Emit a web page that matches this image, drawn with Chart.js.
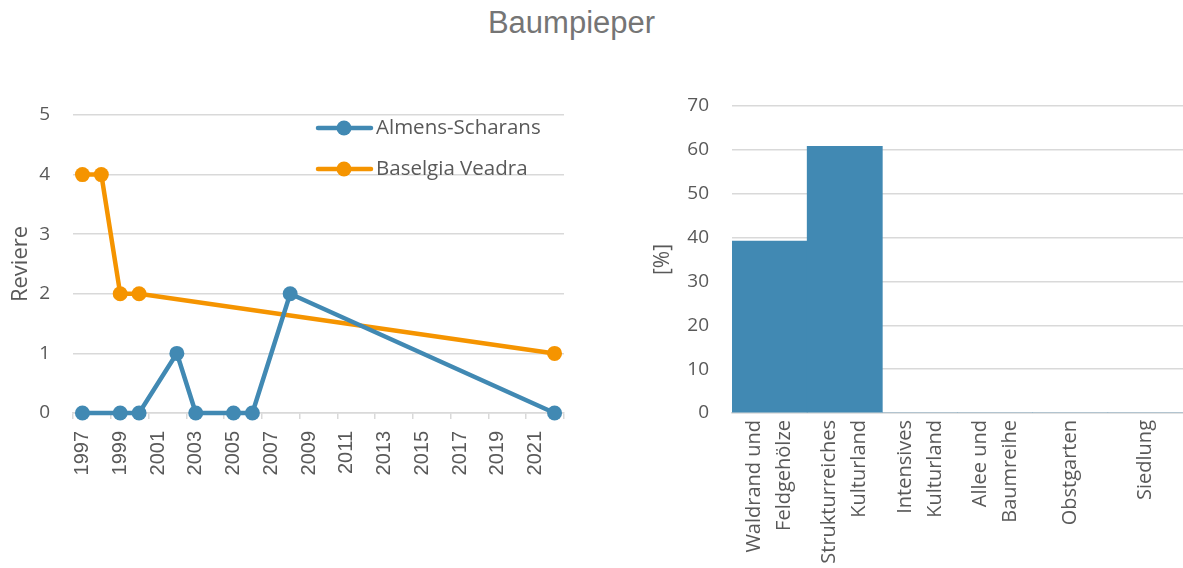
<!DOCTYPE html>
<html>
<head>
<meta charset="utf-8">
<script src="https://cdn.jsdelivr.net/npm/chart.js@4.4.1/dist/chart.umd.min.js"></script>
<style>
  body { margin: 0; background: #fff; width: 1183px; height: 568px; position: relative; overflow: hidden; }
  #title { position: absolute; left: 0; width: 1143px; top: 5px; text-align: center;
           font: 31px "Liberation Sans", Arial, sans-serif; color: #757575; }
  #left { position: absolute; left: 0; top: 0; }
  #right { position: absolute; left: 600px; top: 0; }
</style>
</head>
<body>
<div id="title">Baumpieper</div>
<canvas id="left" width="600" height="568"></canvas>
<canvas id="right" width="583" height="568"></canvas>
<script>
// Line chart data (territories per year)
const almensYears = [1997, 1999, 2000, 2002, 2003, 2005, 2006, 2008, 2022];
const almensValues = [0, 0, 0, 1, 0, 0, 0, 2, 0];
const baselgiaYears = [1997, 1998, 1999, 2000, 2022];
const baselgiaValues = [4, 4, 2, 2, 1];
const yearTicks = [1997, 1999, 2001, 2003, 2005, 2007, 2009, 2011, 2013, 2015, 2017, 2019, 2021];

// Bar chart data (habitat share in %)
const habitatLabels = [
  ["Waldrand und", "Feldgehölze"],
  ["Strukturreiches", "Kulturland"],
  ["Intensives", "Kulturland"],
  ["Allee und", "Baumreihe"],
  ["Obstgarten"],
  ["Siedlung"]
];
const habitatValues = [39.2, 60.8, 0, 0, 0, 0];

const blue = "#4189b3";
const orange = "#f59400";
const textGrey = "#595959";
const gridGrey = "#d9d9d9";

// legend drawn inside the plot area, line + dot like the original
const lineLegend = {
  id: "lineLegend",
  afterDraw(chart) {
    const ctx = chart.ctx;
    ctx.save();
    ctx.font = '20.5px "Open Sans"';
    ctx.textBaseline = "middle";
    chart.data.datasets.forEach((ds, i) => {
      const y = 128 + i * 41;
      ctx.strokeStyle = ds.borderColor;
      ctx.lineWidth = 4.5;
      ctx.lineCap = "round";
      ctx.beginPath();
      ctx.moveTo(318, y);
      ctx.lineTo(371, y);
      ctx.stroke();
      ctx.fillStyle = ds.borderColor;
      ctx.beginPath();
      ctx.arc(344, y, 7.5, 0, Math.PI * 2);
      ctx.fill();
      ctx.fillStyle = textGrey;
      ctx.fillText(ds.label, 376, y);
    });
    ctx.restore();
  }
};

new Chart(document.getElementById("left"), {
  type: "line",
  data: {
    datasets: [
      {
        label: "Almens-Scharans",
        data: almensYears.map((y, i) => ({ x: y, y: almensValues[i] })),
        borderColor: blue,
        backgroundColor: blue,
        borderWidth: 4.5,
        pointRadius: 7.5,
        pointBorderWidth: 0,
        clip: false
      },
      {
        label: "Baselgia Veadra",
        data: baselgiaYears.map((y, i) => ({ x: y, y: baselgiaValues[i] })),
        borderColor: orange,
        backgroundColor: orange,
        borderWidth: 4.5,
        pointRadius: 7.5,
        pointBorderWidth: 0,
        clip: false
      }
    ]
  },
  options: {
    responsive: false,
    animation: false,
    layout: { padding: { top: 115, right: 35, left: 0, bottom: 0 } },
    plugins: { legend: { display: false }, tooltip: { enabled: false } },
    scales: {
      x: {
        type: "linear",
        min: 1996.5,
        max: 2022.5,
        afterBuildTicks(scale) {
          scale.ticks = yearTicks.map(y => ({ value: y - 0.5 })).concat([{ value: 2022.5 }]);
        },
        afterFit(scale) { scale.height = 155; },
        grid: { drawOnChartArea: false, color: gridGrey, lineWidth: 1.5, tickLength: 6 },
        border: { color: gridGrey, width: 1.5 },
        ticks: {
          minRotation: 90,
          maxRotation: 90,
          autoSkip: false,
          padding: 12,
          labelOffset: 9.5,
          color: textGrey,
          font: { family: '"Liberation Sans"', size: 20 },
          callback: v => (yearTicks.includes(v + 0.5) ? String(v + 0.5) : "")
        }
      },
      y: {
        min: 0,
        max: 5,
        afterFit(scale) { scale.width = 73; },
        grid: { color: gridGrey, lineWidth: 1.5, drawTicks: false },
        border: { display: false },
        ticks: { stepSize: 1, padding: 23, color: textGrey, font: { family: '"Open Sans"', size: 19 } },
        title: { display: true, text: "Reviere", color: textGrey, padding: { top: 8 }, font: { family: '"Open Sans"', size: 22 } }
      }
    }
  },
  plugins: [lineLegend]
});

// category labels drawn by hand so two-line labels stay centred on their bar
const catLabels = {
  id: "catLabels",
  afterDraw(chart) {
    const xs = chart.scales.x;
    const ctx = chart.ctx;
    ctx.save();
    ctx.font = '20px "Open Sans"';
    ctx.fillStyle = textGrey;
    ctx.textAlign = "right";
    ctx.textBaseline = "middle";
    habitatLabels.forEach((lines, i) => {
      const x = xs.getPixelForTick(i);
      lines.forEach((line, j) => {
        const dx = (j - (lines.length - 1) / 2) * 30;
        ctx.save();
        ctx.translate(x + dx, xs.top + 7);
        ctx.rotate(-Math.PI / 2);
        ctx.fillText(line, 0, 0);
        ctx.restore();
      });
    });
    ctx.restore();
  }
};

new Chart(document.getElementById("right"), {
  type: "bar",
  data: {
    labels: habitatLabels,
    datasets: [{ data: habitatValues, backgroundColor: blue, barPercentage: 1, categoryPercentage: 1 }]
  },
  options: {
    responsive: false,
    animation: false,
    layout: { padding: { top: 106, right: 0, left: 0, bottom: 0 } },
    plugins: { legend: { display: false }, tooltip: { enabled: false } },
    scales: {
      x: {
        afterFit(scale) { scale.height = 155; },
        grid: { drawOnChartArea: false, drawTicks: false },
        border: { color: gridGrey, width: 1.5 },
        ticks: { display: false }
      },
      y: {
        min: 0,
        max: 70,
        afterFit(scale) { scale.width = 132; },
        grid: { color: gridGrey, lineWidth: 1.5, drawTicks: false },
        border: { display: false },
        ticks: { stepSize: 10, padding: 23, color: textGrey, font: { family: '"Open Sans"', size: 19 } },
        title: { display: true, text: "[%]", color: textGrey, padding: { top: 50 }, font: { family: '"Open Sans"', size: 21 } }
      }
    }
  },
  plugins: [catLabels]
});
</script>
</body>
</html>
